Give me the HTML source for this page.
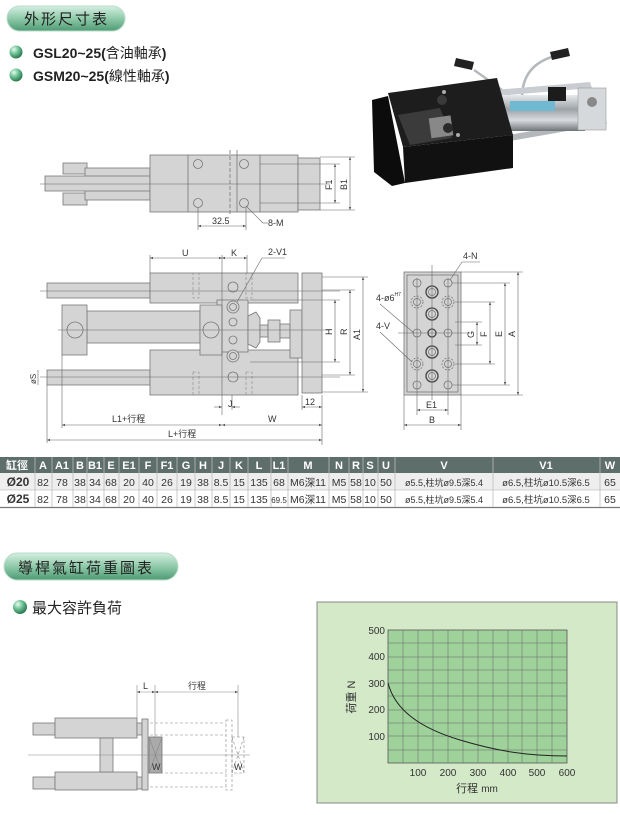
<!DOCTYPE html>
<html><head><meta charset="utf-8"><style>
html,body{margin:0;padding:0;background:#fff;}
svg{display:block;font-family:"Liberation Sans","Noto Sans CJK TC",sans-serif;}
</style></head><body>
<svg width="620" height="815" viewBox="0 0 620 815" xmlns="http://www.w3.org/2000/svg">
<defs>
<linearGradient id="pill" x1="0" y1="0" x2="0" y2="1"><stop offset="0" stop-color="#d6eee2"/><stop offset="0.5" stop-color="#8fcaa9"/><stop offset="1" stop-color="#4e9a74"/></linearGradient>
<radialGradient id="ball" cx="0.35" cy="0.3" r="0.7"><stop offset="0" stop-color="#e6fbef"/><stop offset="0.5" stop-color="#6cc194"/><stop offset="1" stop-color="#2d7a52"/></radialGradient>
<linearGradient id="cyl" x1="0" y1="0" x2="0" y2="1"><stop offset="0" stop-color="#e8eaec"/><stop offset="0.4" stop-color="#9ea3a8"/><stop offset="0.7" stop-color="#d8dbde"/><stop offset="1" stop-color="#6f7479"/></linearGradient>
<marker id="ar" viewBox="0 0 10 10" refX="10" refY="5" markerWidth="5" markerHeight="5" orient="auto-start-reverse"><path d="M0,1 L10,5 L0,9z" fill="#555"/></marker>
</defs>
<g font-size="14" fill="#333">
<rect x="7" y="6" width="118" height="25" rx="12.5" fill="url(#pill)" stroke="#b9ddc9"/>
<text x="24" y="24" font-size="15" letter-spacing="2" fill="#222">外形尺寸表</text>
<circle cx="16" cy="52" r="6.5" fill="url(#ball)"/><text x="33" y="58" font-weight="bold" font-size="14" fill="#222">GSL20~25(<tspan font-weight="normal">含油軸承</tspan>)</text>
<circle cx="16" cy="75" r="6.5" fill="url(#ball)"/><text x="33" y="81" font-weight="bold" font-size="14" fill="#222">GSM20~25(<tspan font-weight="normal">線性軸承</tspan>)</text>
</g>

<!-- photo approx -->
<g>
<path d="M474 70 Q500 88 515 100" stroke="#b5b9bd" stroke-width="2.5" fill="none"/>
<path d="M555 56 Q522 65 522 98" stroke="#b5b9bd" stroke-width="2.5" fill="none"/>
<path d="M456 58 L474 62 L472 70 L454 66z" fill="#222"/>
<path d="M550 52 L568 48 L570 56 L552 60z" fill="#222"/>
<path d="M480 140 L605 118 L607 124 L482 146z" fill="#b4b8bc"/>
<path d="M470 92 L590 82 L592 88 L472 98z" fill="#c9cdd1"/>
<rect x="455" y="95" width="130" height="36" fill="url(#cyl)"/>
<rect x="578" y="88" width="28" height="42" fill="#d6d9dc" stroke="#999" stroke-width="0.6"/>
<circle cx="592" cy="102" r="5" fill="#888"/>
<rect x="510" y="101" width="45" height="10" fill="#6fb9d3"/>
<rect x="548" y="87" width="18" height="14" fill="#1c1c1c"/>
<rect x="465" y="98" width="25" height="16" fill="#1c1c1c"/>
<path d="M388 93 L497 78 L513 135 L403 147z" fill="#1d1d1d"/>
<path d="M403 147 L513 135 L513 168 L405 183z" fill="#111"/>
<path d="M372 100 L388 96 L405 183 L392 186 L374 172z" fill="#0c0c0c"/>
<path d="M398 115 L440 108 L452 138 L410 145z" fill="#3b3b3b"/>
<rect x="430" y="117" width="22" height="20" fill="#888" transform="rotate(-8 440 127)"/>
<circle cx="442" cy="100" r="5" fill="#3a3a3a"/><circle cx="448" cy="128" r="5" fill="#2a2a2a"/>
<circle cx="444" cy="92" r="2" fill="#aaa"/><circle cx="458" cy="135" r="2" fill="#aaa"/>
</g>

<!-- top view -->
<g stroke="#777" stroke-width="0.8" fill="#d4d4d4">
<rect x="63" y="163" width="24" height="11"/><rect x="63" y="193" width="24" height="12"/>
<rect x="85" y="168" width="65" height="32"/>
<rect x="45" y="176" width="105" height="15"/>
<rect x="150" y="155" width="148" height="57"/>
<rect x="298" y="158" width="22" height="52"/>
<line x1="188" y1="155" x2="188" y2="212"/><line x1="260" y1="155" x2="260" y2="212"/>
<line x1="230" y1="150" x2="230" y2="215" stroke-dasharray="4 2"/><line x1="237" y1="150" x2="237" y2="212"/>
<circle cx="198" cy="164" r="4.5"/><circle cx="244" cy="164" r="4.5"/><circle cx="198" cy="203" r="4.5"/><circle cx="244" cy="203" r="4.5"/>
</g>
<g stroke="#666" stroke-width="0.6" fill="none">
<line x1="40" y1="184" x2="330" y2="184"/>
<line x1="260" y1="164" x2="340" y2="164"/><line x1="260" y1="203" x2="340" y2="203"/>
<line x1="320" y1="157" x2="355" y2="157"/><line x1="320" y1="210" x2="355" y2="210"/>
<line x1="335" y1="164" x2="335" y2="203" marker-start="url(#ar)" marker-end="url(#ar)"/>
<line x1="350" y1="157" x2="350" y2="210" marker-start="url(#ar)" marker-end="url(#ar)"/>
<line x1="198" y1="208" x2="198" y2="230"/><line x1="246" y1="208" x2="246" y2="230"/>
<line x1="198" y1="226" x2="246" y2="226" marker-start="url(#ar)" marker-end="url(#ar)"/>
<line x1="246" y1="206" x2="263" y2="223"/><line x1="263" y1="223" x2="268" y2="223"/>
</g>
<g font-size="9" fill="#333"><text x="212" y="224">32.5</text><text x="268" y="226">8-M</text>
<text x="332" y="190" transform="rotate(-90 332 190)">F1</text><text x="347" y="190" transform="rotate(-90 347 190)">B1</text></g>

<!-- front view -->
<g stroke="#777" stroke-width="0.8" fill="#d4d4d4">
<rect x="47" y="283" width="103" height="15"/><rect x="47" y="370" width="103" height="15"/>
<rect x="150" y="273" width="148" height="30"/><rect x="150" y="350" width="148" height="45"/>
<rect x="217" y="300" width="31" height="52"/>
<rect x="87" y="311" width="113" height="32"/>
<rect x="62" y="305" width="25" height="50"/><rect x="200" y="305" width="22" height="50"/>
<circle cx="75" cy="330" r="8"/><circle cx="211" cy="330" r="8"/>
<path d="M248 316 L256 312 L260 318 L260 342 L256 348 L248 344z"/>
<rect x="260" y="325" width="8" height="12"/><rect x="268" y="320" width="12" height="22"/><rect x="280" y="324" width="10" height="14"/>
<rect x="290" y="310" width="12" height="48"/>
<rect x="302" y="273" width="20" height="120"/>
<circle cx="233" cy="287" r="5"/><circle cx="233" cy="307" r="6"/><circle cx="233" cy="307" r="3.5"/><circle cx="233" cy="322" r="4"/>
<circle cx="233" cy="340" r="4"/><circle cx="233" cy="356" r="6"/><circle cx="233" cy="356" r="3.5"/><circle cx="233" cy="377" r="5"/>
</g>
<g stroke="#888" stroke-width="0.6" fill="none" stroke-dasharray="3 2">
<rect x="193" y="273" width="6" height="25"/><rect x="246" y="273" width="6" height="25"/>
<rect x="193" y="372" width="6" height="23"/><rect x="246" y="372" width="6" height="23"/>
</g>
<g stroke="#666" stroke-width="0.6" fill="none">
<line x1="40" y1="291" x2="340" y2="291"/><line x1="40" y1="377" x2="340" y2="377"/>
<line x1="58" y1="330" x2="330" y2="330"/>
<line x1="150" y1="255" x2="150" y2="273"/><line x1="222" y1="255" x2="222" y2="415"/><line x1="247" y1="255" x2="247" y2="273"/>
<line x1="150" y1="258" x2="222" y2="258" marker-start="url(#ar)" marker-end="url(#ar)"/>
<line x1="222" y1="258" x2="247" y2="258" marker-start="url(#ar)" marker-end="url(#ar)"/>
<line x1="237" y1="302" x2="262" y2="258"/><line x1="262" y1="258" x2="285" y2="258"/>
<line x1="250" y1="300" x2="340" y2="300"/><line x1="250" y1="362" x2="340" y2="362"/>
<line x1="335" y1="300" x2="335" y2="362" marker-start="url(#ar)" marker-end="url(#ar)"/>
<line x1="322" y1="290" x2="355" y2="290"/><line x1="322" y1="375" x2="355" y2="375"/>
<line x1="350" y1="290" x2="350" y2="375" marker-start="url(#ar)" marker-end="url(#ar)"/>
<line x1="322" y1="277" x2="368" y2="277"/><line x1="322" y1="392" x2="368" y2="392"/>
<line x1="363" y1="277" x2="363" y2="392" marker-start="url(#ar)" marker-end="url(#ar)"/>
<line x1="232" y1="395" x2="232" y2="410"/><line x1="214" y1="407" x2="222" y2="407" marker-end="url(#ar)"/><line x1="240" y1="407" x2="232" y2="407" marker-end="url(#ar)"/>
<line x1="302" y1="395" x2="302" y2="410"/><line x1="322" y1="395" x2="322" y2="445"/>
<line x1="302" y1="407" x2="322" y2="407" marker-start="url(#ar)" marker-end="url(#ar)"/>
<line x1="62" y1="355" x2="62" y2="428"/><line x1="47" y1="385" x2="47" y2="443"/>
<line x1="62" y1="425" x2="222" y2="425" marker-start="url(#ar)" marker-end="url(#ar)"/>
<line x1="222" y1="425" x2="322" y2="425" marker-start="url(#ar)" marker-end="url(#ar)"/>
<line x1="47" y1="440" x2="322" y2="440" marker-start="url(#ar)" marker-end="url(#ar)"/>
<line x1="38" y1="370" x2="38" y2="385"/>
</g>
<g font-size="9" fill="#333">
<text x="182" y="256">U</text><text x="231" y="256">K</text><text x="268" y="255">2-V1</text>
<text x="332" y="335" transform="rotate(-90 332 335)">H</text><text x="347" y="335" transform="rotate(-90 347 335)">R</text><text x="360" y="340" transform="rotate(-90 360 340)">A1</text>
<text x="228" y="407">J</text><text x="305" y="405">12</text>
<text x="112" y="422">L1+行程</text><text x="268" y="422">W</text><text x="168" y="437">L+行程</text>
<text x="36" y="384" font-size="8" transform="rotate(-90 36 384)">øS</text>
</g>

<!-- side view -->
<g stroke="#777" stroke-width="0.8" fill="#d4d4d4">
<rect x="404" y="272" width="57" height="123"/>
<rect x="407" y="275" width="51" height="117" fill="none"/>
<circle cx="417" cy="283" r="4"/><circle cx="448" cy="283" r="4"/><circle cx="417" cy="385" r="4"/><circle cx="448" cy="385" r="4"/>
<circle cx="417" cy="333" r="4"/><circle cx="448" cy="333" r="4"/>
<circle cx="432" cy="292" r="6" stroke="#444" stroke-width="1.3"/><circle cx="432" cy="292" r="3.5"/>
<circle cx="432" cy="314" r="6" stroke="#444" stroke-width="1.3"/><circle cx="432" cy="314" r="3.5"/>
<circle cx="432" cy="352" r="6" stroke="#444" stroke-width="1.3"/><circle cx="432" cy="352" r="3.5"/>
<circle cx="432" cy="376" r="6" stroke="#444" stroke-width="1.3"/><circle cx="432" cy="376" r="3.5"/>
<circle cx="432" cy="333" r="4" stroke="#444" stroke-width="1.3"/>
<g stroke-dasharray="2 1.5"><circle cx="417" cy="302" r="6"/><circle cx="448" cy="302" r="6"/><circle cx="417" cy="364" r="6"/><circle cx="448" cy="364" r="6"/></g>
<circle cx="417" cy="302" r="3.5"/><circle cx="448" cy="302" r="3.5"/><circle cx="417" cy="364" r="3.5"/><circle cx="448" cy="364" r="3.5"/>
</g>
<g stroke="#666" stroke-width="0.6" fill="none">
<line x1="432" y1="265" x2="432" y2="400"/><line x1="417" y1="278" x2="417" y2="415"/><line x1="448" y1="278" x2="448" y2="415"/>
<line x1="398" y1="333" x2="470" y2="333"/>
<line x1="455" y1="322" x2="482" y2="322"/><line x1="455" y1="345" x2="482" y2="345"/>
<line x1="477" y1="322" x2="477" y2="345" marker-start="url(#ar)" marker-end="url(#ar)"/>
<line x1="455" y1="302" x2="495" y2="302"/><line x1="455" y1="364" x2="495" y2="364"/>
<line x1="490" y1="302" x2="490" y2="364" marker-start="url(#ar)" marker-end="url(#ar)"/>
<line x1="452" y1="283" x2="510" y2="283"/><line x1="452" y1="385" x2="510" y2="385"/>
<line x1="505" y1="283" x2="505" y2="385" marker-start="url(#ar)" marker-end="url(#ar)"/>
<line x1="461" y1="272" x2="523" y2="272"/><line x1="461" y1="395" x2="523" y2="395"/>
<line x1="518" y1="272" x2="518" y2="395" marker-start="url(#ar)" marker-end="url(#ar)"/>
<line x1="417" y1="410" x2="448" y2="410" marker-start="url(#ar)" marker-end="url(#ar)"/>
<line x1="404" y1="395" x2="404" y2="430"/><line x1="461" y1="395" x2="461" y2="430"/>
<line x1="404" y1="425" x2="461" y2="425" marker-start="url(#ar)" marker-end="url(#ar)"/>
<line x1="450" y1="280" x2="462" y2="262"/><line x1="462" y1="262" x2="480" y2="262"/>
<line x1="380" y1="304" x2="414" y2="333"/><line x1="380" y1="332" x2="412" y2="362"/>
</g>
<g font-size="9" fill="#333">
<text x="463" y="259">4-N</text><text x="376" y="301">4-ø6<tspan font-size="5" dy="-5">H7</tspan></text><text x="376" y="329">4-V</text>
<text x="474" y="338" transform="rotate(-90 474 338)">G</text><text x="487" y="337" transform="rotate(-90 487 337)">F</text>
<text x="502" y="337" transform="rotate(-90 502 337)">E</text><text x="515" y="337" transform="rotate(-90 515 337)">A</text>
<text x="426" y="408">E1</text><text x="429" y="423">B</text>
</g>

<!-- table -->
<g font-size="11" fill="#333">
<rect x="0" y="457" width="620" height="16" fill="#5e6e6a"/>
<rect x="0" y="473" width="620" height="17" fill="#eeeeee"/>
<rect x="0" y="490" width="620" height="17" fill="#fff"/>
<line x1="0" y1="507.5" x2="620" y2="507.5" stroke="#777" stroke-width="1.2"/>
<line x1="0" y1="490" x2="620" y2="490" stroke="#aaa" stroke-width="0.6"/>
<g stroke="#bbb" stroke-width="0.8">
<line x1="35" y1="457" x2="35" y2="507"/><line x1="52" y1="457" x2="52" y2="507"/><line x1="73" y1="457" x2="73" y2="507"/><line x1="87" y1="457" x2="87" y2="507"/><line x1="104" y1="457" x2="104" y2="507"/><line x1="119" y1="457" x2="119" y2="507"/><line x1="139" y1="457" x2="139" y2="507"/><line x1="157" y1="457" x2="157" y2="507"/><line x1="177" y1="457" x2="177" y2="507"/><line x1="195" y1="457" x2="195" y2="507"/><line x1="212" y1="457" x2="212" y2="507"/><line x1="230" y1="457" x2="230" y2="507"/><line x1="248" y1="457" x2="248" y2="507"/><line x1="271" y1="457" x2="271" y2="507"/><line x1="288" y1="457" x2="288" y2="507"/><line x1="329" y1="457" x2="329" y2="507"/><line x1="349" y1="457" x2="349" y2="507"/><line x1="363" y1="457" x2="363" y2="507"/><line x1="378" y1="457" x2="378" y2="507"/><line x1="395" y1="457" x2="395" y2="507"/><line x1="493" y1="457" x2="493" y2="507"/><line x1="600" y1="457" x2="600" y2="507"/>
</g>
<g fill="#fff" font-weight="bold" text-anchor="middle" font-size="11">
<text x="17" y="469">缸徑</text><text x="43" y="469">A</text><text x="62" y="469">A1</text><text x="80" y="469">B</text><text x="95" y="469">B1</text><text x="111" y="469">E</text><text x="129" y="469">E1</text><text x="148" y="469">F</text><text x="167" y="469">F1</text><text x="186" y="469">G</text><text x="203" y="469">H</text><text x="221" y="469">J</text><text x="239" y="469">K</text><text x="259" y="469">L</text><text x="279" y="469">L1</text><text x="308" y="469">M</text><text x="339" y="469">N</text><text x="356" y="469">R</text><text x="370" y="469">S</text><text x="386" y="469">U</text><text x="444" y="469">V</text><text x="546" y="469">V1</text><text x="610" y="469">W</text>
</g>
<g text-anchor="middle" font-size="10.5">
<text x="18" y="486" font-weight="bold" font-size="12">Ø20</text><text x="43" y="486">82</text><text x="62" y="486">78</text><text x="80" y="486">38</text><text x="95" y="486">34</text><text x="111" y="486">68</text><text x="129" y="486">20</text><text x="148" y="486">40</text><text x="167" y="486">26</text><text x="186" y="486">19</text><text x="203" y="486">38</text><text x="221" y="486">8.5</text><text x="239" y="486">15</text><text x="259" y="486">135</text><text x="279" y="486">68</text><text x="308" y="486">M6深11</text><text x="339" y="486">M5</text><text x="356" y="486">58</text><text x="370" y="486">10</text><text x="386" y="486">50</text><text x="444" y="486" font-size="9">ø5.5,柱坑ø9.5深5.4</text><text x="546" y="486" font-size="9.5">ø6.5,柱坑ø10.5深6.5</text><text x="610" y="486">65</text>
<text x="18" y="503" font-weight="bold" font-size="12">Ø25</text><text x="43" y="503">82</text><text x="62" y="503">78</text><text x="80" y="503">38</text><text x="95" y="503">34</text><text x="111" y="503">68</text><text x="129" y="503">20</text><text x="148" y="503">40</text><text x="167" y="503">26</text><text x="186" y="503">19</text><text x="203" y="503">38</text><text x="221" y="503">8.5</text><text x="239" y="503">15</text><text x="259" y="503">135</text><text x="279" y="503" font-size="8">69.5</text><text x="308" y="503">M6深11</text><text x="339" y="503">M5</text><text x="356" y="503">58</text><text x="370" y="503">10</text><text x="386" y="503">50</text><text x="444" y="503" font-size="9">ø5.5,柱坑ø9.5深5.4</text><text x="546" y="503" font-size="9.5">ø6.5,柱坑ø10.5深6.5</text><text x="610" y="503">65</text>
</g>
</g>

<!-- section 2 -->
<rect x="4" y="553" width="174" height="27" rx="13.5" fill="url(#pill)" stroke="#b9ddc9"/>
<text x="18" y="573" font-size="15" letter-spacing="2" fill="#222">導桿氣缸荷重圖表</text>
<circle cx="20" cy="607" r="7" fill="url(#ball)"/><text x="32" y="613" font-size="15" fill="#222">最大容許負荷</text>

<g stroke="#777" stroke-width="0.8" fill="#d4d4d4">
<rect x="33" y="723" width="22" height="12"/><rect x="33" y="777" width="22" height="12"/>
<rect x="55" y="718" width="82" height="20"/><rect x="55" y="772" width="82" height="18"/>
<rect x="100" y="738" width="13" height="34"/>
<rect x="137" y="723" width="5" height="12"/><rect x="137" y="777" width="5" height="12"/>
<rect x="142" y="719" width="6" height="71"/>
<rect x="149" y="737" width="13" height="36" fill="#aaa"/>
</g>
<g stroke="#888" stroke-width="0.6" fill="none">
<line x1="149" y1="737" x2="162" y2="773"/><line x1="162" y1="737" x2="149" y2="773"/>
<g stroke-dasharray="3 2"><line x1="150" y1="723" x2="226" y2="723"/><line x1="150" y1="735" x2="226" y2="735"/><line x1="150" y1="773" x2="226" y2="773"/><line x1="150" y1="787" x2="226" y2="787"/>
<rect x="226" y="720" width="6" height="70"/><rect x="232" y="737" width="12" height="36"/>
<line x1="232" y1="737" x2="244" y2="773"/><line x1="244" y1="737" x2="232" y2="773"/></g>
<line x1="28" y1="755" x2="250" y2="755"/>
<line x1="137" y1="685" x2="137" y2="718"/><line x1="155" y1="685" x2="155" y2="737"/><line x1="238" y1="685" x2="238" y2="737"/>
<line x1="137" y1="692" x2="155" y2="692" marker-start="url(#ar)" marker-end="url(#ar)"/>
<line x1="155" y1="692" x2="238" y2="692" marker-start="url(#ar)" marker-end="url(#ar)"/>
</g>
<g font-size="9" fill="#333"><text x="143" y="689">L</text><text x="188" y="689">行程</text><text x="152" y="770">W</text><text x="234" y="770">W</text></g>

<!-- chart -->
<rect x="317" y="602" width="300" height="201" fill="#d3e9c8" stroke="#888" stroke-width="1"/>
<rect x="388" y="630" width="179" height="133" fill="#9fd19b" stroke="#555" stroke-width="0.8"/>
<g stroke="#666" stroke-width="0.5">
<line x1="403" y1="630" x2="403" y2="763"/><line x1="418" y1="630" x2="418" y2="763"/><line x1="433" y1="630" x2="433" y2="763"/><line x1="448" y1="630" x2="448" y2="763"/><line x1="463" y1="630" x2="463" y2="763"/><line x1="478" y1="630" x2="478" y2="763"/><line x1="493" y1="630" x2="493" y2="763"/><line x1="508" y1="630" x2="508" y2="763"/><line x1="522" y1="630" x2="522" y2="763"/><line x1="537" y1="630" x2="537" y2="763"/><line x1="552" y1="630" x2="552" y2="763"/>
<line x1="388" y1="643" x2="567" y2="643"/><line x1="388" y1="657" x2="567" y2="657"/><line x1="388" y1="670" x2="567" y2="670"/><line x1="388" y1="683" x2="567" y2="683"/><line x1="388" y1="696" x2="567" y2="696"/><line x1="388" y1="710" x2="567" y2="710"/><line x1="388" y1="723" x2="567" y2="723"/><line x1="388" y1="736" x2="567" y2="736"/><line x1="388" y1="750" x2="567" y2="750"/>
</g>
<path d="M388 683 C395 710 420 728 460 740 C500 752 530 756 567 756" stroke="#222" stroke-width="1" fill="none"/>
<g font-size="10" fill="#333" text-anchor="end">
<text x="385" y="634">500</text><text x="385" y="660">400</text><text x="385" y="687">300</text><text x="385" y="713">200</text><text x="385" y="740">100</text>
</g>
<g font-size="10" fill="#333" text-anchor="middle">
<text x="418" y="776">100</text><text x="448" y="776">200</text><text x="478" y="776">300</text><text x="508" y="776">400</text><text x="537" y="776">500</text><text x="567" y="776">600</text>
<text x="477" y="792" font-size="11">行程 <tspan font-size="10">mm</tspan></text>
</g>
<text x="355" y="697" font-size="11" fill="#333" text-anchor="middle" transform="rotate(-90 355 697)">荷重 N</text>
</svg>
</body></html>
